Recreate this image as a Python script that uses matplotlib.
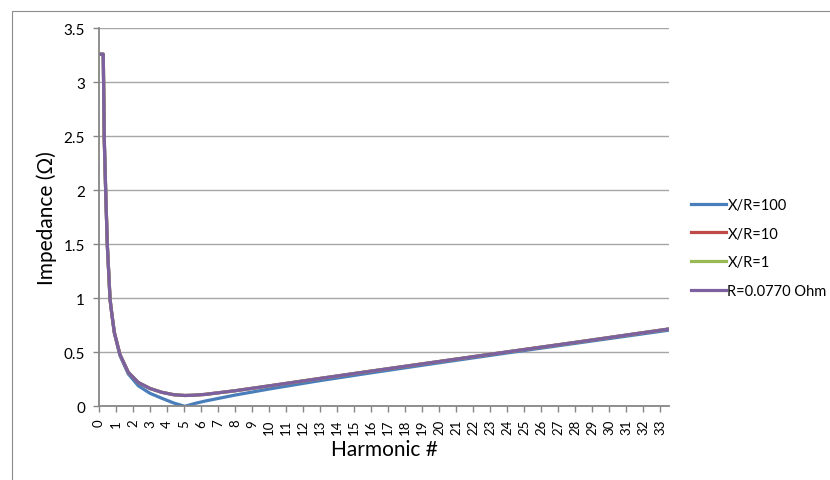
import matplotlib
matplotlib.use("Agg")
import matplotlib.pyplot as plt
from matplotlib.patches import Rectangle

# ---- data ----
harmonic = [0.06, 0.25, 0.31, 0.40, 0.49, 0.65, 0.75, 0.90, 1.23, 1.72, 2.31, 3.00,
            3.68, 4.40, 5.05, 5.60, 6.22, 8.0, 10.0, 13.0, 16.0, 20.0, 24.0, 28.0, 33.5]
xr_100 = [3.26, 3.26, 2.47, 1.95, 1.49, 0.99, 0.86, 0.68, 0.47, 0.30, 0.19, 0.12,
          0.075, 0.03, 0.0, 0.025, 0.048, 0.104, 0.160, 0.238, 0.310, 0.403, 0.494, 0.583, 0.705]
xr_10 = [3.26, 3.26, 2.47, 1.95, 1.49, 0.99, 0.86, 0.685, 0.48, 0.315, 0.22, 0.165,
         0.13, 0.107, 0.100, 0.103, 0.110, 0.144, 0.189, 0.258, 0.326, 0.415, 0.504, 0.592, 0.716]
xr_1 = [3.26, 3.26, 2.47, 1.95, 1.49, 0.99, 0.86, 0.685, 0.48, 0.315, 0.22, 0.165,
        0.13, 0.107, 0.100, 0.103, 0.110, 0.144, 0.189, 0.258, 0.326, 0.415, 0.504, 0.592, 0.716]
r_const = [3.26, 3.26, 2.47, 1.95, 1.49, 0.99, 0.86, 0.685, 0.48, 0.315, 0.22, 0.165,
           0.13, 0.107, 0.100, 0.103, 0.110, 0.144, 0.189, 0.258, 0.326, 0.415, 0.504, 0.592, 0.716]
series_labels = ["X/R=100", "X/R=10", "X/R=1", "R=0.0770 Ohm"]
x_ticks = list(range(0, 34))
y_ticks = [0, 0.5, 1, 1.5, 2, 2.5, 3, 3.5]
y_tick_labels = ["0", "0.5", "1", "1.5", "2", "2.5", "3", "3.5"]

colors = ["#4A7EBB", "#BE4B48", "#98B954", "#7D60A0"]

plt.rcParams['font.family'] = ['Lato', 'DejaVu Sans']

W, H = 830, 481
fig = plt.figure(figsize=(W / 100, H / 100), dpi=100)
ax = fig.add_axes([99 / W, 1 - 407.3 / H, (669 - 99) / W, (407.3 - 29.3) / H])

# chart-area border
fig.patches.append(Rectangle((11.5 / W, -0.2), 1.3, 1 - 11.5 / H + 0.2,
                             transform=fig.transFigure, fill=False,
                             edgecolor="#8C8C8C", linewidth=0.8))

for ys, lab, c in zip([xr_100, xr_10, xr_1, r_const], series_labels, colors):
    ax.plot(harmonic, ys, color=c, linewidth=2.3, label=lab, solid_joinstyle='round')

ax.set_xlim(0, 33.5)
ax.set_ylim(0, 3.5)
ax.set_xticks(x_ticks)
ax.set_xticklabels([str(t) for t in x_ticks], rotation=90)
ax.set_yticks(y_ticks)
ax.set_yticklabels(y_tick_labels)

ax.grid(axis='y', color="#A6A6A6", linewidth=1.0)
ax.set_axisbelow(True)
for s in ["top", "right"]:
    ax.spines[s].set_visible(False)
for s in ["left", "bottom"]:
    ax.spines[s].set_color("#868686")
    ax.spines[s].set_linewidth(1.3)
ax.tick_params(axis='both', colors="#868686", length=4, width=1.0, labelcolor="black")
ax.tick_params(axis='y', labelsize=11, pad=6)
ax.tick_params(axis='x', labelsize=9.5, pad=5)

ax.set_xlabel("Harmonic #", fontsize=15, va='center')
ax.xaxis.set_label_coords(0.5, -(450 - 407.3) / 378)
ax.set_ylabel("Impedance (Ω)", fontsize=15, va='center')
ax.yaxis.set_label_coords((47 - 99) / 570, 0.5)

leg = ax.legend(loc='upper left', bbox_to_anchor=(691 / W, 1 - 199 / H),
                bbox_transform=fig.transFigure, frameon=False, fontsize=10.5,
                handlelength=2.4, handletextpad=0.1, labelspacing=1.0,
                borderaxespad=0, borderpad=0)

fig.savefig("out.png", dpi=100)
